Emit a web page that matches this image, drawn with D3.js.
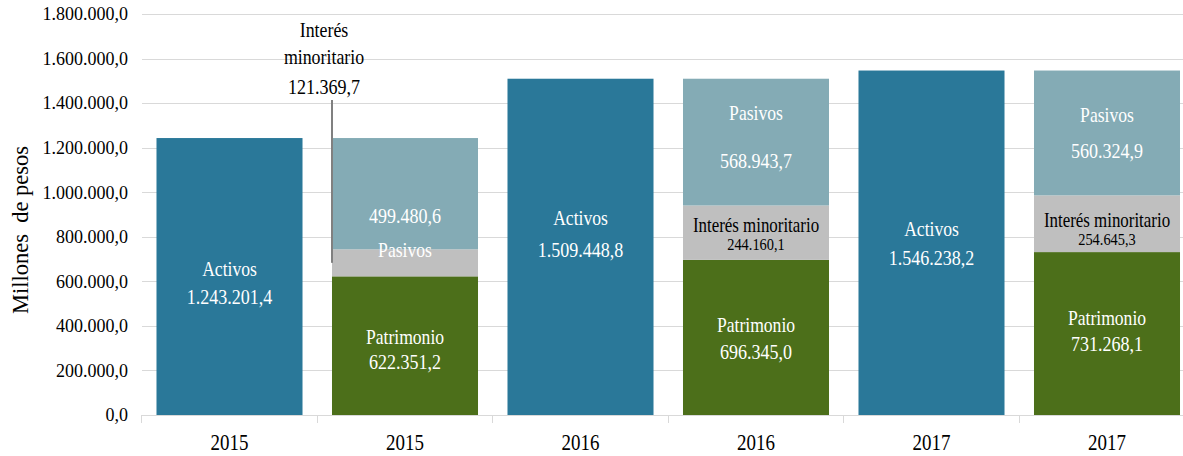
<!DOCTYPE html>
<html>
<head>
<meta charset="utf-8">
<script src="https://cdn.jsdelivr.net/npm/d3@7"></script>
<style>
    body { margin: 0; background: #fff; }
</style>
</head>
<body>
<div id="chart"></div>
<script>
let years = ["2015", "2016", "2017"];
let activos = [1243201.4, 1509448.8, 1546238.2];
let patrimonio = [622351.2, 696345.0, 731268.1];
let interes = [121369.7, 244160.1, 254645.3];
let pasivos = [499480.6, 568943.7, 560324.9];
let yTicks = [0, 200000, 400000, 600000, 800000, 1000000, 1200000, 1400000, 1600000, 1800000];

let colors = {
    activos: "#2a7899",
    patrimonio: "#4c6f1a",
    interes: "#bfbfbf",
    pasivos: "#84abb5"
};

let serif = "'Liberation Serif', 'Times New Roman', 'DejaVu Serif', serif";
let width = 1183;
let height = 456;

let locale = d3.formatLocale({ decimal: ",", thousands: ".", grouping: [3], currency: ["$", ""] });
let fmt = locale.format(",.1f");

let svg = d3.select("#chart")
    .append("svg")
    .attr("width", width)
    .attr("height", height)
    .style("font-family", serif);

// one "A" bar (activos) and one "S" bar (stacked) per year
let keys = [];
years.forEach(yr => { keys.push("A" + yr); keys.push("S" + yr); });

let xScale = d3.scaleBand()
    .domain(keys)
    .range([141.75, 1194.75])
    .paddingInner(0.168)
    .paddingOuter(0.084);

let yScale = d3.scaleLinear()
    .domain([0, 1800000])
    .range([415, 14]);

// gridlines
svg.append("g")
    .selectAll("line")
    .data(yTicks.slice(1))
    .enter()
    .append("line")
    .attr("x1", 142)
    .attr("x2", width)
    .attr("y1", d => Math.round(yScale(d)) + 0.5)
    .attr("y2", d => Math.round(yScale(d)) + 0.5)
    .attr("stroke", "#d9d9d9");

// y labels
svg.append("g")
    .selectAll("text")
    .data(yTicks)
    .enter()
    .append("text")
    .attr("x", 128)
    .attr("y", d => yScale(d))
    .attr("dy", "0.35em")
    .attr("text-anchor", "end")
    .attr("font-family", serif)
    .attr("font-size", 18)
    .attr("fill", "#000")
    .text(d => fmt(d));

svg.append("text")
    .attr("transform", "translate(28,230) rotate(-90)")
    .attr("text-anchor", "middle")
    .attr("font-family", serif)
    .attr("font-size", 22.5)
    .attr("fill", "#000")
    .style("white-space", "pre")
    .text("Millones  de pesos");

// activos bars
svg.append("g")
    .selectAll("rect")
    .data(years)
    .enter()
    .append("rect")
    .attr("x", d => xScale("A" + d))
    .attr("width", xScale.bandwidth())
    .attr("y", (d, i) => yScale(activos[i]))
    .attr("height", (d, i) => yScale(0) - yScale(activos[i]))
    .attr("fill", colors.activos);

// stacked bars
let stackRows = years.map((yr, i) => ({
    year: yr,
    patrimonio: patrimonio[i],
    interes: interes[i],
    pasivos: pasivos[i]
}));
let series = d3.stack().keys(["patrimonio", "interes", "pasivos"])(stackRows);

svg.append("g")
    .selectAll("g")
    .data(series)
    .enter()
    .append("g")
    .attr("fill", s => colors[s.key])
    .selectAll("rect")
    .data(s => s)
    .enter()
    .append("rect")
    .attr("x", d => xScale("S" + d.data.year))
    .attr("width", xScale.bandwidth())
    .attr("y", d => yScale(d[1]))
    .attr("height", d => yScale(d[0]) - yScale(d[1]));

// x axis
let xAxis = d3.axisBottom(xScale)
    .tickSize(0)
    .tickFormat(k => k.slice(1));

let xg = svg.append("g")
    .attr("transform", "translate(0,415.5)")
    .call(xAxis);
xg.attr("font-family", serif);
xg.select(".domain").remove();
xg.selectAll("text")
    .attr("font-size", 24)
    .attr("fill", "#000")
    .attr("y", 0)
    .attr("dy", "0.35em")
    .attr("transform", "translate(0,26) scale(0.79,1)");

let bounds = keys.map(k => xScale(k) - xScale.step() * xScale.paddingInner() / 2 - 0.5);
bounds.push(bounds[bounds.length - 1] + xScale.step());
svg.append("line")
    .attr("x1", 142).attr("x2", width)
    .attr("y1", 415.5).attr("y2", 415.5)
    .attr("stroke", "#d9d9d9");
svg.append("g")
    .selectAll("line")
    .data(bounds)
    .enter()
    .append("line")
    .attr("x1", d => Math.round(d) + 0.5)
    .attr("x2", d => Math.round(d) + 0.5)
    .attr("y1", 415)
    .attr("y2", 423)
    .attr("stroke", "#d9d9d9");

// labels (the source font is a narrow Times, so squeeze it horizontally)
function label(x, y, str, size, color, sx) {
    svg.append("text")
        .attr("transform", "translate(" + x + "," + y + ") scale(" + sx + ",1)")
        .attr("dy", "0.35em")
        .attr("text-anchor", "middle")
        .attr("font-family", serif)
        .attr("font-size", size)
        .attr("fill", color)
        .text(str);
}

let activosShift = [[-8, 20], [-30, 2], [-14, 15]];
years.forEach((yr, i) => {
    let cx = xScale("A" + yr) + xScale.bandwidth() / 2;
    let cy = (yScale(0) + yScale(activos[i])) / 2;
    label(cx, cy + activosShift[i][0], "Activos", 22, "#fff", 0.8);
    label(cx, cy + activosShift[i][1], fmt(activos[i]), 22, "#fff", 0.82);
});

let segShift = {
    patrimonio: [[-9, 16], [-13.5, 13.5], [-16.5, 9.5]],
    interes: [null, [-8, 12], [-4, 16]],
    pasivos: [[55.5, 21.5], [-30, 18], [-19, 17]]
};
let segName = { patrimonio: "Patrimonio", interes: "Interés minoritario", pasivos: "Pasivos" };

series.forEach(s => {
    s.forEach((d, i) => {
        let shift = segShift[s.key][i];
        if (!shift) return;
        let cx = xScale("S" + d.data.year) + xScale.bandwidth() / 2;
        let cy = (yScale(d[0]) + yScale(d[1])) / 2;
        if (s.key === "interes") {
            label(cx, cy + shift[0], segName[s.key], 20, "#000", 0.845);
            label(cx, cy + shift[1], fmt(d[1] - d[0]), 16, "#000", 0.9);
        } else {
            label(cx, cy + shift[0], segName[s.key], 22, "#fff", 0.8);
            label(cx, cy + shift[1], fmt(d[1] - d[0]), 22, "#fff", 0.82);
        }
    });
});

// callout for interes minoritario 2015
let s0 = series[1][0];
let calloutX = xScale("S2015");
svg.append("line")
    .attr("x1", calloutX)
    .attr("x2", calloutX)
    .attr("y1", 100)
    .attr("y2", (yScale(s0[0]) + yScale(s0[1])) / 2)
    .attr("stroke", "#808080")
    .attr("stroke-width", 2);
label(calloutX - 8, 30, "Interés", 21, "#000", 0.85);
label(calloutX - 8, 57, "minoritario", 21, "#000", 0.85);
label(calloutX - 8, 87, fmt(s0[1] - s0[0]), 21, "#000", 0.86);
</script>
</body>
</html>
